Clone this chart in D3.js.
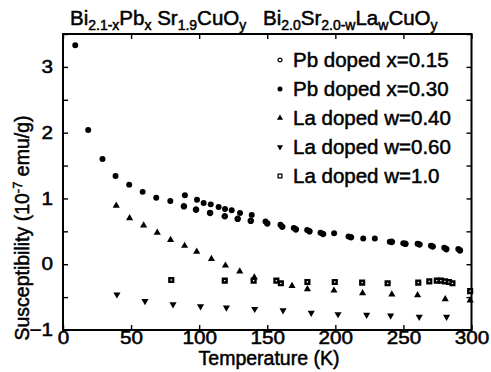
<!DOCTYPE html>
<html>
<head>
<meta charset="utf-8">
<script src="https://cdn.jsdelivr.net/npm/d3@7"></script>
<style>
  html, body { margin: 0; padding: 0; background: #fff; }
  svg { display: block; }
  text { font-family: "Liberation Sans", Arial, Helvetica, sans-serif; fill: #000; }
</style>
</head>
<body>
<svg id="chart" width="491" height="372"></svg>
<script>
// Magnetic susceptibility vs temperature, Pb- and La-doped Bi-2201 samples
// [temperature (K), susceptibility (1e-7 emu/g)]
const pbX015 = [
  [88.8, 0.88], [97.7, 0.83], [108.0, 0.78], [118.8, 0.73], [128.3, 0.69],
  [137.9, 0.66], [150.0, 0.62], [161.0, 0.57], [171.0, 0.53], [181.0, 0.50],
  [191.0, 0.46], [211.5, 0.41], [241.5, 0.34], [251.5, 0.31], [261.8, 0.30],
  [271.5, 0.27], [281.5, 0.23], [291.5, 0.21]
];
const pbX030 = [
  [9.0, 3.33], [18.5, 2.04], [29.0, 1.60], [38.6, 1.34], [48.6, 1.21],
  [58.5, 1.10], [68.5, 1.01], [78.8, 0.96], [89.5, 1.05], [98.4, 0.98],
  [103.3, 0.93], [108.5, 0.91], [114.3, 0.87], [119.0, 0.84], [123.9, 0.82],
  [130.0, 0.78], [138.6, 0.75], [148.7, 0.65], [159.7, 0.60], [169.5, 0.55],
  [179.3, 0.52], [189.1, 0.48], [199.1, 0.47], [209.7, 0.42], [220.5, 0.39],
  [229.0, 0.39], [240.0, 0.34], [249.9, 0.32], [260.4, 0.31], [270.2, 0.28],
  [280.0, 0.25], [290.3, 0.23]
];
const laW040 = [
  [39.1, 0.89], [48.9, 0.70], [59.2, 0.59], [69.2, 0.48], [79.0, 0.37],
  [89.3, 0.28], [98.2, 0.19], [109.0, 0.08], [119.3, -0.02], [129.8, -0.11],
  [140.5, -0.20], [168.2, -0.33], [179.5, -0.38], [199.0, -0.40], [220.0, -0.44],
  [241.5, -0.46], [260.4, -0.47], [280.7, -0.53], [299.0, -0.55]
];
const laW060 = [
  [39.6, -0.46], [60.2, -0.56], [80.8, -0.61], [101.0, -0.64], [120.0, -0.66],
  [140.8, -0.68], [161.6, -0.70], [182.3, -0.74], [202.0, -0.76], [223.0, -0.77],
  [240.6, -0.78], [261.6, -0.80], [281.7, -0.80]
];
const laW100 = [
  [79.5, -0.24], [118.8, -0.25], [140.0, -0.25], [156.7, -0.25], [160.0, -0.29],
  [179.5, -0.27], [199.6, -0.27], [219.7, -0.28], [238.4, -0.29], [260.9, -0.28],
  [269.0, -0.26], [274.5, -0.25], [277.5, -0.25], [280.5, -0.26], [283.5, -0.27],
  [286.0, -0.29], [299.0, -0.41]
];
const legendLabels = ["Pb doped x=0.15", "Pb doped x=0.30", "La doped w=0.40", "La doped w=0.60", "La doped w=1.0"];
const xTickValues = [0, 50, 100, 150, 200, 250, 300];
const yTickValues = [-1, -0.5, 0, 0.5, 1, 1.5, 2, 2.5, 3, 3.5];

const svg = d3.select("#chart");
const mLeft = 63, mRight = 471.5, mTop = 34, mBottom = 330;
const ink = 0.5;       // stroke added to glyphs for a heavier print look
const stretch = 1.15;  // wide digits on the tick labels

const x = d3.scaleLinear().domain([0, 300]).range([mLeft, mRight]);
const y = d3.scaleLinear().domain([-1, 3.5]).range([mBottom, mTop]);

// frame
svg.append("rect")
  .attr("x", mLeft).attr("y", mTop)
  .attr("width", mRight - mLeft).attr("height", mBottom - mTop)
  .attr("fill", "none").attr("stroke", "#000").attr("stroke-width", 2);

const fmtY = d => Number.isInteger(d) ? d3.format("d")(d) : "";

function styleAxis(g) {
  g.select(".domain").remove();
  g.selectAll(".tick line").attr("stroke", "#000").attr("stroke-width", 1.4);
  g.selectAll(".tick text")
    .attr("fill", "#000")
    .style("font-family", '"Liberation Sans", Arial, Helvetica, sans-serif')
    .style("font-size", "18px")
    .attr("transform", `scale(${stretch},1)`)
    .attr("stroke", "#000").attr("stroke-width", ink);
}

svg.append("g").attr("transform", `translate(0,${mBottom})`)
  .call(d3.axisBottom(x).tickValues(xTickValues).tickSizeInner(-5).tickSizeOuter(0).tickPadding(1.5))
  .call(styleAxis);
svg.append("g").attr("transform", `translate(0,${mTop})`)
  .call(d3.axisTop(x).tickValues(xTickValues).tickSizeInner(-5).tickSizeOuter(0).tickFormat(""))
  .call(styleAxis);
svg.append("g").attr("transform", `translate(${mLeft},0)`)
  .call(d3.axisLeft(y).tickValues(yTickValues).tickSizeInner(-5).tickSizeOuter(0).tickPadding(10 / stretch).tickFormat(fmtY))
  .call(styleAxis);
svg.append("g").attr("transform", `translate(${mRight},0)`)
  .call(d3.axisRight(y).tickValues(yTickValues).tickSizeInner(-5).tickSizeOuter(0).tickFormat(""))
  .call(styleAxis);

// markers
const sym = {
  circle: d3.symbol().type(d3.symbolCircle),
  triUp: d3.symbol().type(d3.symbolTriangle),
  square: d3.symbol().type(d3.symbolSquare)
};

const series = [
  { data: pbX015, shape: "circle", size: 10, fill: "#fff", stroke: 3, flip: false },
  { data: pbX030, shape: "circle", size: 28, fill: "#000", stroke: 0, flip: false },
  { data: laW040, shape: "triUp", size: 22, fill: "#000", stroke: 0, flip: false },
  { data: laW060, shape: "triUp", size: 22, fill: "#000", stroke: 0, flip: true },
  { data: laW100, shape: "square", size: 14, fill: "#fff", stroke: 2.4, flip: false }
];

const plot = svg.append("g");
series.forEach(s => {
  plot.selectAll(null).data(s.data).enter().append("path")
    .attr("d", sym[s.shape].size(s.size)())
    .attr("transform", d => `translate(${x(d[0])},${y(d[1])})` + (s.flip ? " rotate(180)" : ""))
    .attr("fill", s.fill)
    .attr("stroke", s.stroke ? "#000" : "none")
    .attr("stroke-width", s.stroke);
});

// legend
const legend = svg.append("g");
const legendSeries = [
  { shape: "circle", size: 12, fill: "#fff", stroke: 1.3, flip: false },
  { shape: "circle", size: 20, fill: "#000", stroke: 0, flip: false },
  { shape: "triUp", size: 16, fill: "#000", stroke: 0, flip: false },
  { shape: "triUp", size: 16, fill: "#000", stroke: 0, flip: true },
  { shape: "square", size: 14, fill: "#fff", stroke: 1.3, flip: false }
];
legendLabels.forEach((lab, i) => {
  const cy = 60 + i * 29;
  const s = legendSeries[i];
  legend.append("path")
    .attr("d", sym[s.shape].size(s.size)())
    .attr("transform", `translate(280,${cy})` + (s.flip ? " rotate(180)" : ""))
    .attr("fill", s.fill)
    .attr("stroke", s.stroke ? "#000" : "none")
    .attr("stroke-width", s.stroke);
  legend.append("text")
    .attr("x", 293).attr("y", cy + 7)
    .style("font-size", "20.5px")
    .attr("stroke", "#000").attr("stroke-width", ink)
    .text(lab);
});

// compound formulas above the frame
function formula(xPos, parts) {
  const t = svg.append("text").attr("x", xPos).attr("y", 25)
    .style("font-size", "20.5px").attr("stroke", "#000").attr("stroke-width", ink);
  parts.forEach(p => {
    const ts = t.append("tspan").text(p[0]);
    if (p[1]) ts.style("font-size", "14px").attr("baseline-shift", "-5");
  });
}
formula(70, [["Bi"], ["2.1-x", true], ["Pb"], ["x", true], [" Sr"], ["1.9", true], ["CuO"], ["y", true]]);
formula(263, [["Bi"], ["2.0", true], ["Sr"], ["2.0-w", true], ["La"], ["w", true], ["CuO"], ["y", true]]);

// axis titles
svg.append("text")
  .attr("x", 269).attr("y", 365)
  .attr("text-anchor", "middle")
  .style("font-size", "19.5px").attr("stroke", "#000").attr("stroke-width", ink)
  .text("Temperature (K)");

const yl = svg.append("text")
  .attr("transform", "translate(29,228) rotate(-90)")
  .attr("text-anchor", "middle")
  .style("font-size", "19.5px").attr("stroke", "#000").attr("stroke-width", ink);
yl.append("tspan").text("Susceptibility (10");
yl.append("tspan").text("-7").style("font-size", "13px").attr("baseline-shift", "7");
yl.append("tspan").text(" emu/g)");
</script>
</body>
</html>
